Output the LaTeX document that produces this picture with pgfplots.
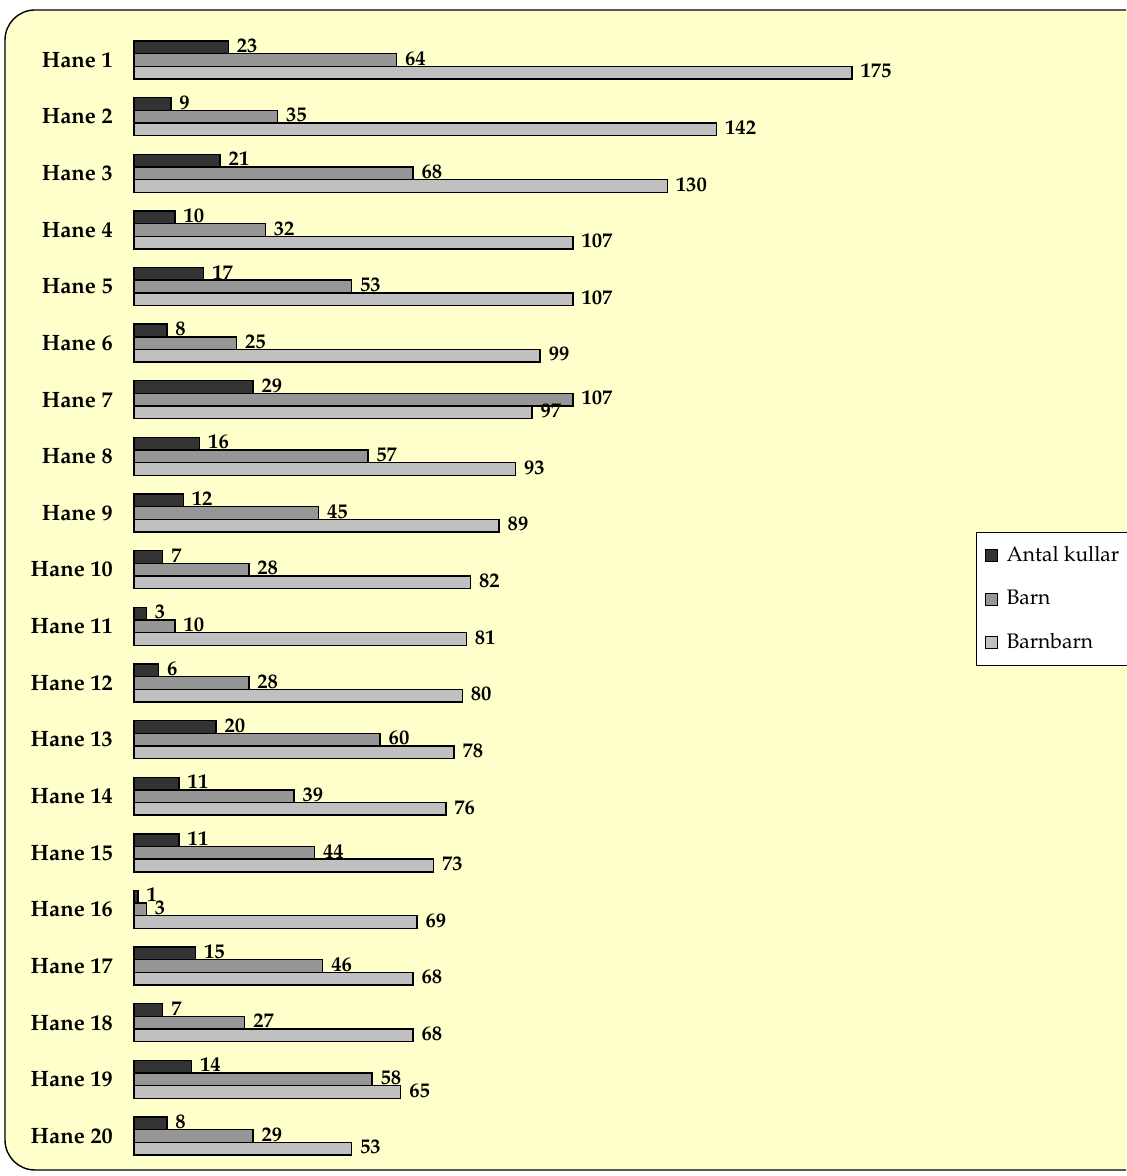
\documentclass[border=0pt]{standalone}
\usepackage[T1]{fontenc}
\usepackage{mathpazo}
\usepackage{pgfplots}
\usepackage{pgfplotstable}
\pgfplotsset{compat=1.18}
\definecolor{bg}{HTML}{FFFFCC}
\definecolor{cA}{HTML}{333333}
\definecolor{cB}{HTML}{969696}
\definecolor{cC}{HTML}{C0C0C0}
\pgfplotstableread{
pos a b c
20 23 64 175
19 9 35 142
18 21 68 130
17 10 32 107
16 17 53 107
15 8 25 99
14 29 107 97
13 16 57 93
12 12 45 89
11 7 28 82
10 3 10 81
9 6 28 80
8 20 60 78
7 11 39 76
6 11 44 73
5 1 3 69
4 15 46 68
3 7 27 68
2 14 58 65
1 8 29 53
}\data
\begin{document}
\fontsize{10.3}{12.4}\selectfont
\begin{tikzpicture}
\useasboundingbox (0,0) rectangle (563pt,588pt);
\begin{scope}
\clip (0,0) rectangle (563pt,588pt);
\draw[fill=bg, line width=0.7pt, rounded corners=15pt] (2.5pt,3pt) rectangle (590pt,583pt);
\end{scope}
\begin{axis}[
  at={(67pt,5.85pt)}, anchor=south west,
  scale only axis, width=359pt, height=566.3pt,
  xmin=0, xmax=175, ymin=0.5, ymax=20.5,
  xbar, bar width=6.33pt,
  axis line style={draw=none},
  xtick=\empty,
  ytick={1,...,20},
  yticklabels={Hane 20,Hane 19,Hane 18,Hane 17,Hane 16,Hane 15,Hane 14,Hane 13,Hane 12,Hane 11,Hane 10,Hane 9,Hane 8,Hane 7,Hane 6,Hane 5,Hane 4,Hane 3,Hane 2,Hane 1},
  major tick length=0pt,
  yticklabel style={font=\fontsize{11.1}{13}\selectfont\bfseries, xshift=-7pt},
  /pgf/number format/assume math mode=true,
  nodes near coords,
  nodes near coords style={font=\bfseries, xshift=0.5pt, yshift=0.8pt},
  clip=false,
  legend cell align=left,
  legend style={at={(1.1727,0.5583)}, anchor=north west, draw=black, fill=white,
    font=\fontsize{10.5}{12.6}\selectfont, row sep=8.75pt, line width=0.6pt,
    inner xsep=3pt, inner ysep=5pt},
]
\addplot[fill=cA, draw=black, line width=0.7pt, bar shift=6.33pt,
  legend image code/.code={\path[draw=none,fill=none] (0pt,0pt) -- (10pt,0pt);\draw[fill=cA, draw=black, line width=0.6pt] (1.5pt,-3pt) rectangle (7.5pt,3pt);}]
  table[x=a, y=pos] {\data};
\addlegendentry{Antal kullar}
\addplot[fill=cB, draw=black, line width=0.7pt, bar shift=0pt,
  legend image code/.code={\path[draw=none,fill=none] (0pt,0pt) -- (10pt,0pt);\draw[fill=cB, draw=black, line width=0.6pt] (1.5pt,-3pt) rectangle (7.5pt,3pt);}]
  table[x=b, y=pos] {\data};
\addlegendentry{Barn}
\addplot[fill=cC, draw=black, line width=0.7pt, bar shift=-6.33pt,
  legend image code/.code={\path[draw=none,fill=none] (0pt,0pt) -- (10pt,0pt);\draw[fill=cC, draw=black, line width=0.6pt] (1.5pt,-3pt) rectangle (7.5pt,3pt);}]
  table[x=c, y=pos] {\data};
\addlegendentry{Barnbarn}
\end{axis}
\end{tikzpicture}
\end{document}
